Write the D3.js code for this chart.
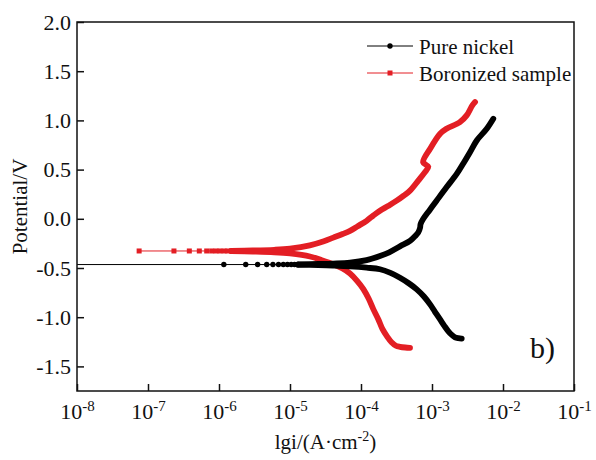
<!DOCTYPE html>
<html>
<head>
<meta charset="utf-8">
<script src="https://cdn.jsdelivr.net/npm/d3@7"></script>
<style>
body { margin: 0; background: #fff; }
text { font-family: "Times New Roman", "Liberation Serif", serif; }
</style>
</head>
<body>
<div id="chart"></div>
<script>
// values: [current A/cm2, potential V]
var nickelBase = [[5e-9, -0.465], [1.17e-6, -0.465], [2.38e-6, -0.465], [3.5e-6, -0.465], [4.7e-6, -0.465],
	[5.75e-6, -0.465], [6.9e-6, -0.465], [8.05e-6, -0.465], [9.2e-6, -0.465], [1.04e-5, -0.465], [1.16e-5, -0.465], [1.3e-5, -0.465]];
var nickelCathodic = [[1.3e-5, -0.467], [2.5e-5, -0.471], [4.04e-5, -0.476], [7e-5, -0.484], [1.2e-4, -0.497],
	[1.85e-4, -0.513], [2.6e-4, -0.55], [3.54e-4, -0.599], [4.7e-4, -0.655], [6.1e-4, -0.717], [7.7e-4, -0.79],
	[9.4e-4, -0.87], [1.1e-3, -0.945], [1.3e-3, -1.023], [1.5e-3, -1.09], [1.7e-3, -1.143], [1.9e-3, -1.18],
	[2.11e-3, -1.204], [2.35e-3, -1.213], [2.62e-3, -1.217]];
var nickelAnodic = [[1.3e-5, -0.463], [2.5e-5, -0.459], [4.04e-5, -0.455], [7e-5, -0.446], [1.2e-4, -0.42],
	[1.85e-4, -0.378], [2.5e-4, -0.34], [3.54e-4, -0.28], [4.9e-4, -0.225], [5.7e-4, -0.18], [6.4e-4, -0.14],
	[6.8e-4, -0.09], [6.9e-4, -0.054], [7.5e-4, -0.003], [9.3e-4, 0.09], [1.16e-3, 0.184], [1.6e-3, 0.32],
	[2.23e-3, 0.456], [2.8e-3, 0.57], [3.43e-3, 0.677], [4.27e-3, 0.796], [5.9e-3, 0.915], [7.3e-3, 1.017]];

var boronBase = [[7.5e-8, -0.327], [2.32e-7, -0.327], [3.82e-7, -0.327], [5.28e-7, -0.327], [6.71e-7, -0.327],
	[7.89e-7, -0.327], [9.07e-7, -0.327], [1.03e-6, -0.327], [1.18e-6, -0.327], [1.33e-6, -0.327], [1.5e-6, -0.327]];
var boronCathodic = [[1.5e-6, -0.329], [3e-6, -0.333], [6e-6, -0.34], [1e-5, -0.352], [1.91e-5, -0.383],
	[2.8e-5, -0.42], [4.07e-5, -0.462], [5.5e-5, -0.505], [7e-5, -0.556], [8.8e-5, -0.63], [1.08e-4, -0.714],
	[1.28e-4, -0.81], [1.49e-4, -0.918], [1.75e-4, -1.02], [2.01e-4, -1.122], [2.35e-4, -1.2], [2.69e-4, -1.255],
	[3.1e-4, -1.29], [3.54e-4, -1.301], [4.2e-4, -1.308], [4.9e-4, -1.311]];
var boronAnodic = [[1.5e-6, -0.325], [3e-6, -0.322], [6e-6, -0.315], [1e-5, -0.303], [1.9e-5, -0.27],
	[3e-5, -0.228], [4.07e-5, -0.191], [5.5e-5, -0.155], [7e-5, -0.122], [9e-5, -0.075], [1.2e-4, -0.02],
	[1.5e-4, 0.035], [1.85e-4, 0.082], [2.4e-4, 0.13], [3.18e-4, 0.184], [4e-4, 0.235], [4.9e-4, 0.286],
	[6.4e-4, 0.388], [7.9e-4, 0.472], [8.87e-4, 0.53], [7.5e-4, 0.574], [9.4e-4, 0.711], [1.3e-3, 0.864],
	[1.6e-3, 0.915], [2.47e-3, 0.983], [3.08e-3, 1.051], [3.7e-3, 1.153], [4.04e-3, 1.186]];

var xTicks = [1e-8, 1e-7, 1e-6, 1e-5, 1e-4, 1e-3, 1e-2, 1e-1];
var yTicks = [-1.5, -1.0, -0.5, 0.0, 0.5, 1.0, 1.5, 2.0];
var seriesNames = ["Pure nickel", "Boronized sample"];
var seriesColors = ["#000000", "#e31e24"];

var width = 596, height = 460;
var margin = {left: 77, top: 22, right: 22, bottom: 69};

var svg = d3.select("#chart")
	.append("svg")
	.attr("width", width)
	.attr("height", height);

var x = d3.scaleLog()
	.domain([1e-8, 1e-1])
	.range([margin.left, width - margin.right]);

var y = d3.scaleLinear()
	.domain([-1.75, 2.0])
	.range([height - margin.bottom, margin.top]);

svg.append("clipPath").attr("id", "plotclip")
	.append("rect")
	.attr("x", margin.left).attr("y", margin.top)
	.attr("width", width - margin.left - margin.right)
	.attr("height", height - margin.top - margin.bottom);

var plot = svg.append("g").attr("clip-path", "url(#plotclip)");

var line = d3.line()
	.x(d => x(d[0]))
	.y(d => y(d[1]))
	.curve(d3.curveCatmullRom.alpha(0.5));

function drawSeries(base, cath, anod, color, shape) {
	// thin line along Ecorr
	plot.append("path")
		.attr("d", d3.line().x(d => x(d[0])).y(d => y(d[1]))(base))
		.attr("fill", "none")
		.attr("stroke", color)
		.attr("stroke-width", 1);
	// the dense branches
	[cath, anod].forEach(function(br) {
		plot.append("path")
			.attr("d", line(br))
			.attr("fill", "none")
			.attr("stroke", color)
			.attr("stroke-width", 5.8)
			.attr("stroke-linejoin", "round")
			.attr("stroke-linecap", "round");
	});
	var pts = base.filter(d => d[0] >= x.domain()[0]);
	if (shape == "circle") {
		plot.selectAll(null).data(pts).join("circle")
			.attr("cx", d => x(d[0]))
			.attr("cy", d => y(d[1]))
			.attr("r", 2.7)
			.attr("fill", color);
	} else {
		plot.selectAll(null).data(pts).join("rect")
			.attr("x", d => x(d[0]) - 2.5)
			.attr("y", d => y(d[1]) - 2.5)
			.attr("width", 5)
			.attr("height", 5)
			.attr("fill", color);
	}
}

drawSeries(boronBase, boronCathodic, boronAnodic, seriesColors[1], "square");
drawSeries(nickelBase, nickelCathodic, nickelAnodic, seriesColors[0], "circle");

// axes, ticks pointing inward
var yAxis = svg.append("g")
	.attr("transform", `translate(${margin.left},0)`)
	.call(d3.axisLeft(y).tickValues(yTicks).tickSize(-7).tickPadding(6).tickFormat(d3.format(".1f")));
yAxis.selectAll("text").attr("font-size", 22).attr("fill", "#111")
	.attr("font-family", '"Times New Roman", "Liberation Serif", serif')
	.text(d => d3.format(".1f")(d).replace("−", "-"));

var xAxis = svg.append("g")
	.attr("transform", `translate(0,${height - margin.bottom})`)
	.call(d3.axisBottom(x).tickValues(xTicks).tickSize(-7).tickFormat(""));
xAxis.selectAll(".tick").append("text")
	.attr("y", 28)
	.attr("fill", "#111")
	.attr("text-anchor", "middle")
	.attr("font-family", '"Times New Roman", "Liberation Serif", serif')
	.attr("font-size", 22)
	.each(function(d) {
		var t = d3.select(this);
		t.append("tspan").text("10");
		t.append("tspan").attr("font-size", 15).attr("dy", -8).text(Math.round(Math.log10(d)));
	});

svg.selectAll(".domain").remove();
svg.selectAll(".tick line").attr("stroke", "#111").attr("stroke-width", 1.5);

svg.append("rect")
	.attr("x", margin.left).attr("y", margin.top)
	.attr("width", width - margin.left - margin.right)
	.attr("height", height - margin.top - margin.bottom)
	.attr("fill", "none")
	.attr("stroke", "#111")
	.attr("stroke-width", 1.5);

// axis titles
svg.append("text")
	.attr("transform", `translate(27,${(margin.top + height - margin.bottom) / 2}) rotate(-90)`)
	.attr("text-anchor", "middle")
	.attr("font-size", 21)
	.attr("fill", "#111")
	.text("Potential/V");

var xt = svg.append("text")
	.attr("x", (margin.left + width - margin.right) / 2)
	.attr("y", 449)
	.attr("text-anchor", "middle")
	.attr("font-size", 21)
	.attr("fill", "#111");
xt.append("tspan").text("lgi/(A·cm");
xt.append("tspan").attr("font-size", 14).attr("dy", -8).text("-2");
xt.append("tspan").attr("dy", 8).text(")");

svg.append("text")
	.attr("x", 530)
	.attr("y", 358)
	.attr("font-size", 30)
	.attr("fill", "#111")
	.text("b)");

// legend
var leg = svg.selectAll(".leg")
	.data(seriesNames)
	.join("g")
	.attr("class", "leg")
	.attr("transform", (d, i) => `translate(367,${46 + i * 27})`);
leg.append("line")
	.attr("x1", 0).attr("x2", 46)
	.attr("stroke", (d, i) => seriesColors[i])
	.attr("stroke-width", 1);
leg.each(function(d, i) {
	var g = d3.select(this);
	if (i == 0) {
		g.append("circle").attr("cx", 23).attr("r", 2.7).attr("fill", seriesColors[i]);
	} else {
		g.append("rect").attr("x", 20.5).attr("y", -2.5).attr("width", 5).attr("height", 5).attr("fill", seriesColors[i]);
	}
});
leg.append("text")
	.attr("x", 52)
	.attr("y", 8)
	.attr("font-size", 21)
	.attr("fill", "#111")
	.text(d => d);
</script>
</body>
</html>
